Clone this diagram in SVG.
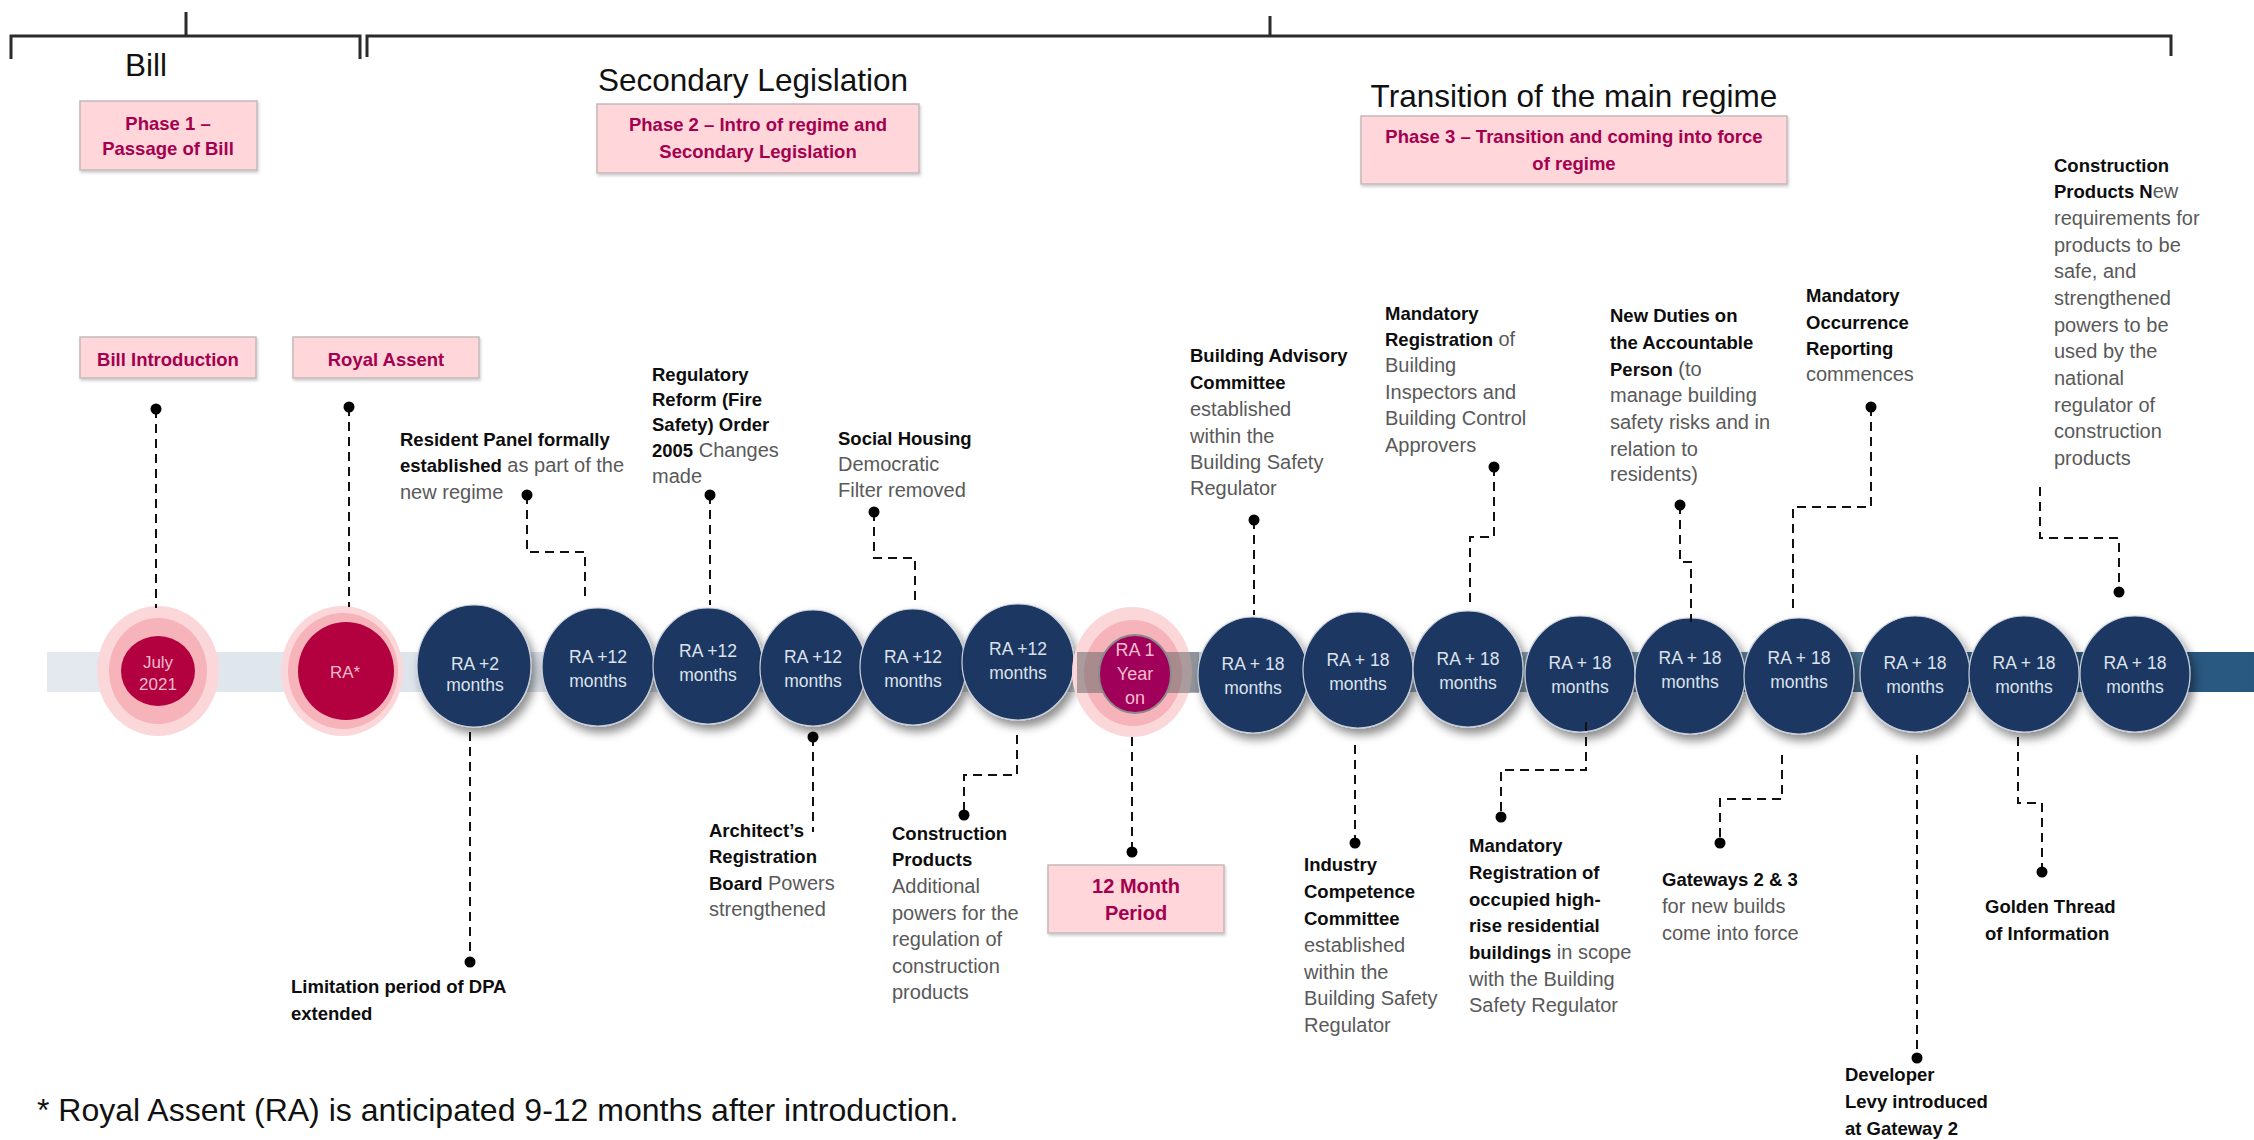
<svg xmlns="http://www.w3.org/2000/svg" width="2254" height="1140" viewBox="0 0 2254 1140">
<defs>
<style>
text{font-family:"Liberation Sans",Arial,sans-serif}
.br{fill:none;stroke:#2b2b2b;stroke-width:3}
.ttl{font-size:31.5px;fill:#111}
.pbox{fill:#ffd6d9;stroke:#c4b9ba;stroke-width:1.5}
.pt{font-size:18.5px;font-weight:700;fill:#a4004f;text-anchor:middle}
.navy{fill:#1f3762;stroke:#c9d0dc;stroke-width:1.2;filter:url(#sh)}
.ct{font-size:17.5px;fill:#dde2ec;text-anchor:middle}
.pk{font-size:17px;fill:#f4bccb;text-anchor:middle}
.g1{fill:#fcd7da}
.g2{fill:#f6b3b9}
.cn{fill:none;stroke:#111;stroke-width:2;stroke-dasharray:9 6}
.dot{fill:#000}
.b{font-size:18.5px;font-weight:700;fill:#0d0d0d}
.r{font-size:20px;font-weight:400;fill:#595959}
.fn{font-size:32px;fill:#111}
</style>
<linearGradient id="band" x1="47" y1="0" x2="2254" y2="0" gradientUnits="userSpaceOnUse">
<stop offset="0" stop-color="#e3e9ef"/>
<stop offset="0.45" stop-color="#d3dbe3"/>
<stop offset="0.72" stop-color="#7592a8"/>
<stop offset="0.9" stop-color="#2e5c82"/>
<stop offset="1" stop-color="#285780"/>
</linearGradient>
<filter id="sh" x="-30%" y="-30%" width="170%" height="170%">
<feDropShadow dx="4" dy="6" stdDeviation="5" flood-color="#000" flood-opacity="0.45"/>
</filter>
<filter id="bs" x="-10%" y="-10%" width="120%" height="130%">
<feDropShadow dx="1" dy="2" stdDeviation="1.5" flood-color="#000" flood-opacity="0.2"/>
</filter>
</defs>
<rect width="2254" height="1140" fill="#fff"/>

<g id="brackets">
<path class="br" d="M11,59 V36 H360 V59 M186,12 V36"/>
<path class="br" d="M367,57 V36 H2171 V56 M1270,16 V36"/>
<text class="ttl" x="146" y="76" text-anchor="middle">Bill</text>
<text class="ttl" x="753" y="91" text-anchor="middle">Secondary Legislation</text>
<text class="ttl" x="1574" y="107" text-anchor="middle">Transition of the main regime</text>
</g>

<g id="phase1">
<rect class="pbox" x="80" y="101" width="177" height="69" filter="url(#bs)"/>
<text class="pt"><tspan x="168" y="130">Phase 1 –</tspan><tspan x="168" y="155">Passage of Bill</tspan></text>
</g>
<g id="phase2">
<rect class="pbox" x="597" y="104" width="322" height="69" filter="url(#bs)"/>
<text class="pt"><tspan x="758" y="131">Phase 2 – Intro of regime and</tspan><tspan x="758" y="158">Secondary Legislation</tspan></text>
</g>
<g id="phase3">
<rect class="pbox" x="1361" y="116" width="426" height="68" filter="url(#bs)"/>
<text class="pt"><tspan x="1574" y="143">Phase 3 – Transition and coming into force</tspan><tspan x="1574" y="170">of regime</tspan></text>
</g>
<g id="bill-intro">
<rect class="pbox" x="80" y="337" width="176" height="41" filter="url(#bs)"/>
<text class="pt" x="168" y="366">Bill Introduction</text>
</g>
<g id="royal-assent">
<rect class="pbox" x="293" y="337" width="186" height="41" filter="url(#bs)"/>
<text class="pt" x="386" y="366">Royal Assent</text>
</g>

<g id="timeline-band">
<rect x="47" y="652" width="2207" height="40" fill="url(#band)"/>
</g>

<g id="n-july">
<ellipse class="g1" cx="158" cy="671" rx="61" ry="65"/>
<ellipse class="g2" cx="158" cy="671" rx="49" ry="53"/>
<ellipse cx="158" cy="671" rx="37" ry="35" fill="#b3003f"/>
<text class="pk"><tspan x="158" y="668">July</tspan><tspan x="158" y="690">2021</tspan></text>
</g>
<g id="n-ra">
<ellipse class="g1" cx="342" cy="671" rx="61" ry="65"/>
<ellipse class="g2" cx="343" cy="671" rx="55" ry="58"/>
<ellipse cx="346" cy="671" rx="48" ry="49" fill="#b3003f"/>
<text class="pk" x="345" y="678">RA*</text>
</g>

<g id="n-ra2"><ellipse class="navy" cx="474" cy="666" rx="57" ry="61"/><text class="ct"><tspan x="475" y="670">RA +2</tspan><tspan x="475" y="691">months</tspan></text></g>
<g id="n-ra12a"><ellipse class="navy" cx="598" cy="667" rx="56" ry="59"/><text class="ct"><tspan x="598" y="663">RA +12</tspan><tspan x="598" y="687">months</tspan></text></g>
<g id="n-ra12b"><ellipse class="navy" cx="708" cy="666" rx="55" ry="58"/><text class="ct"><tspan x="708" y="657">RA +12</tspan><tspan x="708" y="681">months</tspan></text></g>
<g id="n-ra12c"><ellipse class="navy" cx="813" cy="668" rx="53" ry="58"/><text class="ct"><tspan x="813" y="663">RA +12</tspan><tspan x="813" y="687">months</tspan></text></g>
<g id="n-ra12d"><ellipse class="navy" cx="913" cy="667" rx="53" ry="58"/><text class="ct"><tspan x="913" y="663">RA +12</tspan><tspan x="913" y="687">months</tspan></text></g>
<g id="n-ra12e"><ellipse class="navy" cx="1018" cy="662" rx="56" ry="58"/><text class="ct"><tspan x="1018" y="655">RA +12</tspan><tspan x="1018" y="679">months</tspan></text></g>

<g id="n-ra1year">
<ellipse class="g1" cx="1132" cy="672" rx="60" ry="65"/>
<ellipse class="g2" cx="1133" cy="673" rx="49" ry="53"/>
<rect x="1077" y="652" width="122" height="41" fill="#6a6a6a" opacity="0.55"/>
<ellipse cx="1135" cy="674" rx="36" ry="39" fill="#a0005a" stroke="#8a8a8a" stroke-width="2"/>
<text class="pk" style="font-size:18px"><tspan x="1135" y="656">RA 1</tspan><tspan x="1135" y="680">Year</tspan><tspan x="1135" y="704">on</tspan></text>
</g>

<g id="n-ra18a"><ellipse class="navy" cx="1253" cy="675" rx="55" ry="58"/><text class="ct"><tspan x="1253" y="670">RA + 18</tspan><tspan x="1253" y="694">months</tspan></text></g>
<g id="n-ra18b"><ellipse class="navy" cx="1358" cy="670" rx="55" ry="58"/><text class="ct"><tspan x="1358" y="666">RA + 18</tspan><tspan x="1358" y="690">months</tspan></text></g>
<g id="n-ra18c"><ellipse class="navy" cx="1468" cy="669" rx="55" ry="58"/><text class="ct"><tspan x="1468" y="665">RA + 18</tspan><tspan x="1468" y="689">months</tspan></text></g>
<g id="n-ra18d"><ellipse class="navy" cx="1580" cy="674" rx="55" ry="58"/><text class="ct"><tspan x="1580" y="669">RA + 18</tspan><tspan x="1580" y="693">months</tspan></text></g>
<g id="n-ra18e"><ellipse class="navy" cx="1690" cy="676" rx="55" ry="58"/><text class="ct"><tspan x="1690" y="664">RA + 18</tspan><tspan x="1690" y="688">months</tspan></text></g>
<g id="n-ra18f"><ellipse class="navy" cx="1799" cy="676" rx="55" ry="58"/><text class="ct"><tspan x="1799" y="664">RA + 18</tspan><tspan x="1799" y="688">months</tspan></text></g>
<g id="n-ra18g"><ellipse class="navy" cx="1915" cy="674" rx="55" ry="58"/><text class="ct"><tspan x="1915" y="669">RA + 18</tspan><tspan x="1915" y="693">months</tspan></text></g>
<g id="n-ra18h"><ellipse class="navy" cx="2024" cy="674" rx="55" ry="58"/><text class="ct"><tspan x="2024" y="669">RA + 18</tspan><tspan x="2024" y="693">months</tspan></text></g>
<g id="n-ra18i"><ellipse class="navy" cx="2135" cy="674" rx="55" ry="58"/><text class="ct"><tspan x="2135" y="669">RA + 18</tspan><tspan x="2135" y="693">months</tspan></text></g>

<g id="connectors">
<path class="cn" d="M156,409 V608"/>
<path class="cn" d="M349,407 V607"/>
<path class="cn" d="M527,495 V552 H585 V602"/>
<path class="cn" d="M710,495 V605"/>
<path class="cn" d="M874,512 V558 H915 V603"/>
<path class="cn" d="M1254,520 V615"/>
<path class="cn" d="M1494,467 V537 H1470 V605"/>
<path class="cn" d="M1680,505 V562 H1691 V622"/>
<path class="cn" d="M1871,407 V507 H1793 V608"/>
<path class="cn" d="M2040,487 V538 H2119 V592"/>
<path class="cn" d="M470,732 V962"/>
<path class="cn" d="M813,737 V832"/>
<path class="cn" d="M1017,735 V775 H964 V815"/>
<path class="cn" d="M1132,737 V852"/>
<path class="cn" d="M1355,745 V843"/>
<path class="cn" d="M1586,722 V770 H1501 V817"/>
<path class="cn" d="M1782,755 V799 H1720 V843"/>
<path class="cn" d="M1917,755 V1058"/>
<path class="cn" d="M2018,737 V803 H2042 V872"/>
<g class="dot">
<circle cx="156" cy="409" r="5.5"/><circle cx="349" cy="407" r="5.5"/><circle cx="527" cy="495" r="5.5"/><circle cx="710" cy="495" r="5.5"/><circle cx="874" cy="512" r="5.5"/><circle cx="1254" cy="520" r="5.5"/><circle cx="1494" cy="467" r="5.5"/><circle cx="1680" cy="505" r="5.5"/><circle cx="1871" cy="407" r="5.5"/><circle cx="2119" cy="592" r="5.5"/>
<circle cx="470" cy="962" r="5.5"/><circle cx="813" cy="737" r="5.5"/><circle cx="964" cy="815" r="5.5"/><circle cx="1132" cy="852" r="5.5"/><circle cx="1355" cy="843" r="5.5"/><circle cx="1501" cy="817" r="5.5"/><circle cx="1720" cy="843" r="5.5"/><circle cx="1917" cy="1058" r="5.5"/><circle cx="2042" cy="872" r="5.5"/>
</g>
</g>

<g id="l-resident">
<text><tspan class="b" x="400" y="446">Resident Panel formally</tspan><tspan x="400" y="472"><tspan class="b">established</tspan><tspan class="r"> as part of the</tspan></tspan><tspan class="r" x="400" y="499">new regime</tspan></text>
</g>
<g id="l-fire">
<text><tspan class="b" x="652" y="381">Regulatory</tspan><tspan class="b" x="652" y="406">Reform (Fire</tspan><tspan class="b" x="652" y="431">Safety) Order</tspan><tspan x="652" y="457"><tspan class="b">2005</tspan><tspan class="r"> Changes</tspan></tspan><tspan class="r" x="652" y="483">made</tspan></text>
</g>
<g id="l-social">
<text><tspan class="b" x="838" y="445">Social Housing</tspan><tspan class="r" x="838" y="471">Democratic</tspan><tspan class="r" x="838" y="497">Filter removed</tspan></text>
</g>
<g id="l-bac">
<text><tspan class="b" x="1190" y="362">Building Advisory</tspan><tspan class="b" x="1190" y="389">Committee</tspan><tspan class="r" x="1190" y="416">established</tspan><tspan class="r" x="1190" y="443">within the</tspan><tspan class="r" x="1190" y="469">Building Safety</tspan><tspan class="r" x="1190" y="495">Regulator</tspan></text>
</g>
<g id="l-inspectors">
<text><tspan class="b" x="1385" y="320">Mandatory</tspan><tspan x="1385" y="346"><tspan class="b">Registration</tspan><tspan class="r"> of</tspan></tspan><tspan class="r" x="1385" y="372">Building</tspan><tspan class="r" x="1385" y="399">Inspectors and</tspan><tspan class="r" x="1385" y="425">Building Control</tspan><tspan class="r" x="1385" y="452">Approvers</tspan></text>
</g>
<g id="l-duties">
<text><tspan class="b" x="1610" y="322">New Duties on</tspan><tspan class="b" x="1610" y="349">the Accountable</tspan><tspan x="1610" y="376"><tspan class="b">Person</tspan><tspan class="r"> (to</tspan></tspan><tspan class="r" x="1610" y="402">manage building</tspan><tspan class="r" x="1610" y="429">safety risks and in</tspan><tspan class="r" x="1610" y="456">relation to</tspan><tspan class="r" x="1610" y="481">residents)</tspan></text>
</g>
<g id="l-occurrence">
<text><tspan class="b" x="1806" y="302">Mandatory</tspan><tspan class="b" x="1806" y="329">Occurrence</tspan><tspan class="b" x="1806" y="355">Reporting</tspan><tspan class="r" x="1806" y="381">commences</tspan></text>
</g>
<g id="l-cpnew">
<text><tspan class="b" x="2054" y="172">Construction</tspan><tspan x="2054" y="198"><tspan class="b">Products N</tspan><tspan class="r">ew</tspan></tspan><tspan class="r" x="2054" y="225">requirements for</tspan><tspan class="r" x="2054" y="252">products to be</tspan><tspan class="r" x="2054" y="278">safe, and</tspan><tspan class="r" x="2054" y="305">strengthened</tspan><tspan class="r" x="2054" y="332">powers to be</tspan><tspan class="r" x="2054" y="358">used by the</tspan><tspan class="r" x="2054" y="385">national</tspan><tspan class="r" x="2054" y="412">regulator of</tspan><tspan class="r" x="2054" y="438">construction</tspan><tspan class="r" x="2054" y="465">products</tspan></text>
</g>

<g id="l-dpa">
<text><tspan class="b" x="291" y="993">Limitation period of DPA</tspan><tspan class="b" x="291" y="1020">extended</tspan></text>
</g>
<g id="l-arb">
<text><tspan class="b" x="709" y="837">Architect’s</tspan><tspan class="b" x="709" y="863">Registration</tspan><tspan x="709" y="890"><tspan class="b">Board</tspan><tspan class="r">  Powers</tspan></tspan><tspan class="r" x="709" y="916">strengthened</tspan></text>
</g>
<g id="l-cp">
<text><tspan class="b" x="892" y="840">Construction</tspan><tspan class="b" x="892" y="866">Products</tspan><tspan class="r" x="892" y="893">Additional</tspan><tspan class="r" x="892" y="920">powers for the</tspan><tspan class="r" x="892" y="946">regulation of</tspan><tspan class="r" x="892" y="973">construction</tspan><tspan class="r" x="892" y="999">products</tspan></text>
</g>
<g id="n-12month">
<rect class="pbox" x="1048" y="865" width="176" height="68" filter="url(#bs)"/>
<text class="pt" style="font-size:20px"><tspan x="1136" y="893">12 Month</tspan><tspan x="1136" y="920">Period</tspan></text>
</g>
<g id="l-icc">
<text><tspan class="b" x="1304" y="871">Industry</tspan><tspan class="b" x="1304" y="898">Competence</tspan><tspan class="b" x="1304" y="925">Committee</tspan><tspan class="r" x="1304" y="952">established</tspan><tspan class="r" x="1304" y="979">within the</tspan><tspan class="r" x="1304" y="1005">Building Safety</tspan><tspan class="r" x="1304" y="1032">Regulator</tspan></text>
</g>
<g id="l-hrb">
<text><tspan class="b" x="1469" y="852">Mandatory</tspan><tspan class="b" x="1469" y="879">Registration of</tspan><tspan class="b" x="1469" y="906">occupied high-</tspan><tspan class="b" x="1469" y="932">rise residential</tspan><tspan x="1469" y="959"><tspan class="b">buildings</tspan><tspan class="r"> in scope</tspan></tspan><tspan class="r" x="1469" y="986">with the Building</tspan><tspan class="r" x="1469" y="1012">Safety Regulator</tspan></text>
</g>
<g id="l-gateways">
<text><tspan class="b" x="1662" y="886">Gateways 2 &amp; 3</tspan><tspan class="r" x="1662" y="913">for new builds</tspan><tspan class="r" x="1662" y="940">come into force</tspan></text>
</g>
<g id="l-levy">
<text><tspan class="b" x="1845" y="1081">Developer</tspan><tspan class="b" x="1845" y="1108">Levy introduced</tspan><tspan class="b" x="1845" y="1135">at Gateway 2</tspan></text>
</g>
<g id="l-golden">
<text><tspan class="b" x="1985" y="913">Golden Thread</tspan><tspan class="b" x="1985" y="940">of Information</tspan></text>
</g>

<g id="footnote">
<text class="fn" x="37" y="1121">* Royal Assent (RA) is anticipated 9-12 months after introduction.</text>
</g>
</svg>
